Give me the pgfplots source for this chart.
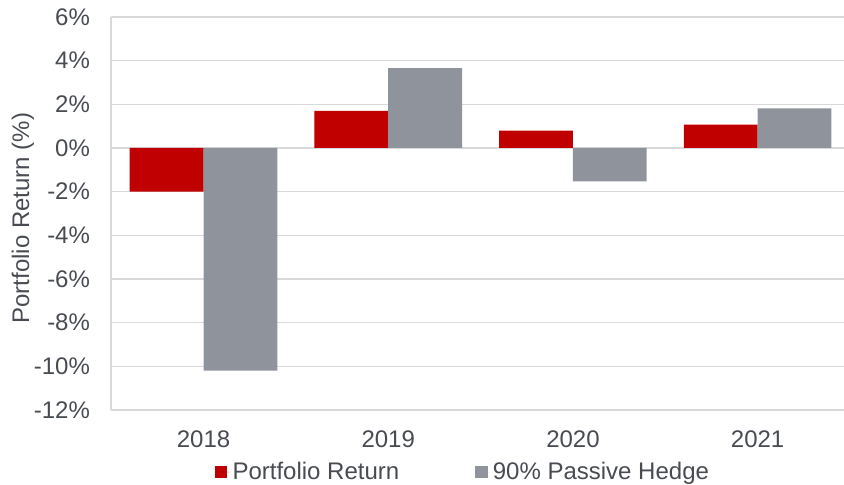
\documentclass[border=0pt]{standalone}
\usepackage{pgfplots}
\pgfplotsset{compat=1.18}
\usepackage{fontspec}
\setmainfont{Liberation Sans}
\definecolor{pred}{HTML}{C00000}
\definecolor{pgray}{HTML}{8F939B}
\definecolor{txt}{HTML}{484C52}
\definecolor{gridc}{HTML}{D9D9D9}
\begin{document}
\begin{tikzpicture}
\useasboundingbox (0,0) rectangle (633pt,363.75pt);
\begin{axis}[
  at={(83.4pt,56.25pt)}, anchor=south west,
  scale only axis,
  width=554.1pt, height=294.75pt,
  font=\fontsize{18pt}{21pt}\selectfont,
  ybar=0pt, bar width=55.35pt,
  xmin=-0.5, xmax=3.5,
  ymin=-12, ymax=6,
  xtick={0,1,2,3},
  xticklabels={2018,2019,2020,2021},
  ytick={-12,-10,-8,-6,-4,-2,0,2,4,6},
  yticklabels={-12\%,-10\%,-8\%,-6\%,-4\%,-2\%,0\%,2\%,4\%,6\%},
  axis x line*=bottom, axis y line*=left,
  axis line style={gridc, line width=1.1pt},
  ymajorgrids=true, xmajorgrids=false, grid style={gridc, line width=1.1pt},
  major tick length=0pt,
  tick label style={text=txt},
  yticklabel style={anchor=east, inner sep=0pt, xshift=-15.75pt},
  xticklabel style={anchor=north, inner sep=0pt, yshift=-15pt},
  ylabel={Portfolio Return (\%)},
  ylabel style={at={(axis description cs:-0.1194,0.4885)}, anchor=center, text=txt},
  legend columns=2,
  legend style={draw=none, at={(axis description cs:0.4766,-0.1578)}, anchor=center,
    text=txt, /tikz/every even column/.append style={column sep=55pt},
    inner sep=0pt},
  legend image code/.code={\fill[#1] (0pt,-4.7pt) rectangle (9.4pt,4.7pt);
    \path (0pt,0pt) -- (11.2pt,0pt);},
]
\addplot[fill=pred, draw=none] coordinates {(0,-2.0) (1,1.7) (2,0.8) (3,1.07)};
\addplot[fill=pgray, draw=none] coordinates {(0,-10.2) (1,3.66) (2,-1.53) (3,1.82)};
\legend{Portfolio Return, 90\% Passive Hedge}
\end{axis}
\end{tikzpicture}
\end{document}
